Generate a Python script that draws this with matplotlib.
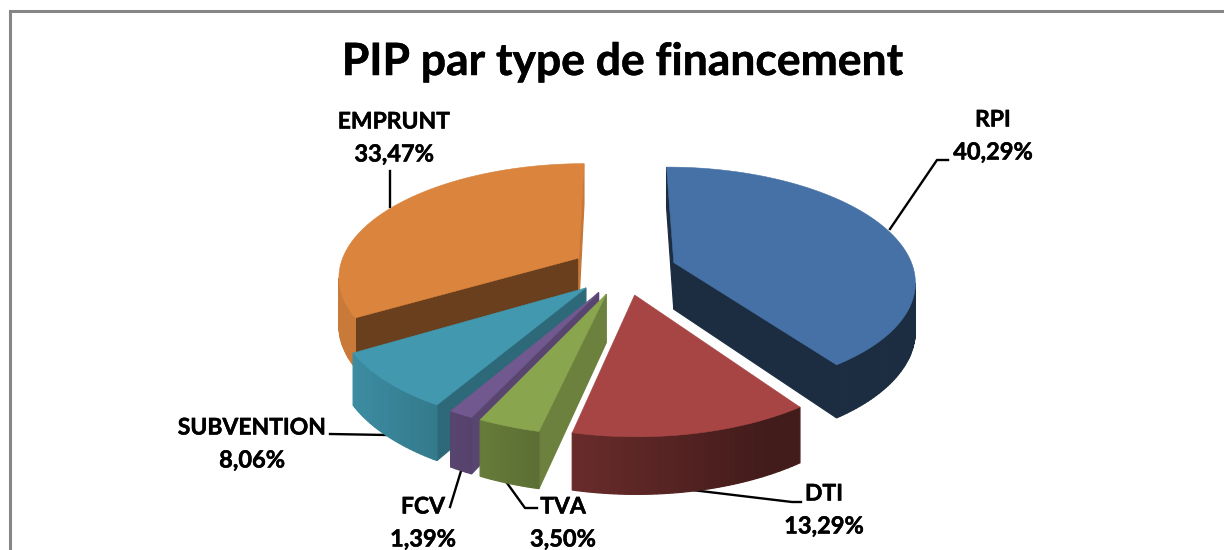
import numpy as np
import matplotlib
matplotlib.use('Agg')
import matplotlib.pyplot as plt
import matplotlib.patheffects as pe
from matplotlib.colors import to_rgb
from matplotlib.patches import Polygon

names = ['RPI', 'DTI', 'TVA', 'FCV', 'SUBVENTION', 'EMPRUNT']
values = [40.29, 13.29, 3.50, 1.39, 8.06, 33.47]

colors = ['#4571A6', '#A64543', '#89A54E', '#71588F', '#4198AF', '#DB843D']
# how dark the straight cut faces are: (start edge, end edge)
cut_shade = [(0.40, 0.40), (0.5, 0.5), (0.78, 0.7), (0.78, 0.7), (0.69, 0.7), (0.48, 0.90)]
draw_order = [5, 0, 4, 3, 2, 1]

# pie geometry in pixels
cx, cy = 624, 270
rx, ry = 240, 112
persp = 0.151
depth = 47
explode = 0.22
first_angle = -0.2

# label centre and leader line for each slice
label_pos = [(993, 136), (824, 510), (563, 523), (423, 523), (252, 444), (394, 138)]
leaders = [
    [(890, 229), (937, 160), (948, 160)],
    [(692, 490), (792, 502), (801, 502)],
    [(507, 483), (525, 508), (537, 508)],
    [(461, 471), (450, 507)],
    [(330, 434), (387, 435)],
    [(390, 207), (390, 171)],
]


def project(u, v, h=0.0):
    d = 1 + persp * v
    return cx + rx * u / d, cy - (ry * v - depth * h) / d


def shade(color, f):
    return tuple(c * f for c in to_rgb(color))


def wall_shade(u):
    return min(0.92, max(0.40, 0.57 - 0.35 * u))


def face(ax, pts, color):
    # only faces turned to the viewer get drawn
    x = [p[0] for p in pts]
    y = [p[1] for p in pts]
    area = sum(x[i] * y[(i + 1) % 4] - x[(i + 1) % 4] * y[i] for i in range(4))
    if area >= 0:
        ax.add_patch(Polygon(pts, closed=True, facecolor=color, edgecolor=color, lw=0.9, zorder=3))


def draw_slice(ax, start, end, color, shades):
    mid = (start + end) / 2
    ox = explode * np.sin(mid)
    oy = explode * np.cos(mid)
    t = np.linspace(start, end, max(int(np.degrees(end - start)), 4))
    us = ox + np.sin(t)
    vs = oy + np.cos(t)

    # cut faces, wound so the outward side counts as visible
    face(ax, [project(ox, oy), project(ox, oy, 1), project(us[0], vs[0], 1), project(us[0], vs[0])],
         shade(color, shades[0]))
    face(ax, [project(us[-1], vs[-1]), project(us[-1], vs[-1], 1), project(ox, oy, 1), project(ox, oy)],
         shade(color, shades[1]))

    # outer wall in thin strips so the shading runs along it
    for i in range(len(t) - 1):
        quad = [project(us[i], vs[i]), project(us[i], vs[i], 1),
                project(us[i + 1], vs[i + 1], 1), project(us[i + 1], vs[i + 1])]
        face(ax, quad, shade(color, wall_shade((us[i] + us[i + 1]) / 2)))

    top = [project(ox, oy)] + [project(a, b) for a, b in zip(us, vs)]
    ax.add_patch(Polygon(top, closed=True, facecolor=color, edgecolor=color, lw=0.4, zorder=3))


fig = plt.figure(figsize=(12.24, 5.5), dpi=100)
ax = fig.add_axes([0, 0, 1, 1])
ax.set_xlim(0, 1224)
ax.set_ylim(550, 0)
ax.axis('off')

# chart frame, cut off at the right and the bottom
ax.plot([9.5, 9.5, 1224], [550, 11, 11], color='#868686', lw=2.2, solid_joinstyle='miter', zorder=1)

thicker = [pe.withStroke(linewidth=0.35, foreground='black')]

ax.text(623, 62, 'PIP par type de financement', fontsize=32, fontweight='bold',
        family='Lato', ha='center', va='center', color='black', path_effects=thicker)

edges = np.radians(np.cumsum([0] + values) / sum(values) * 360 + first_angle)

for line in leaders:
    ax.plot([p[0] for p in line], [p[1] for p in line], color='black', lw=1.7, zorder=2)

for i in draw_order:
    draw_slice(ax, edges[i], edges[i + 1], colors[i], cut_shade[i])

for i in range(len(names)):
    x, y = label_pos[i]
    pct = f'{values[i]:.2f}'.replace('.', ',') + '%'
    ax.text(x, y - 16, names[i], fontsize=16.5, fontweight='bold', family='Lato',
            ha='center', va='center', color='black', path_effects=thicker)
    ax.text(x, y + 16, pct, fontsize=17, fontweight='bold', family='Lato',
            ha='center', va='center', color='black', path_effects=thicker)

fig.savefig('out.png', dpi=100)
